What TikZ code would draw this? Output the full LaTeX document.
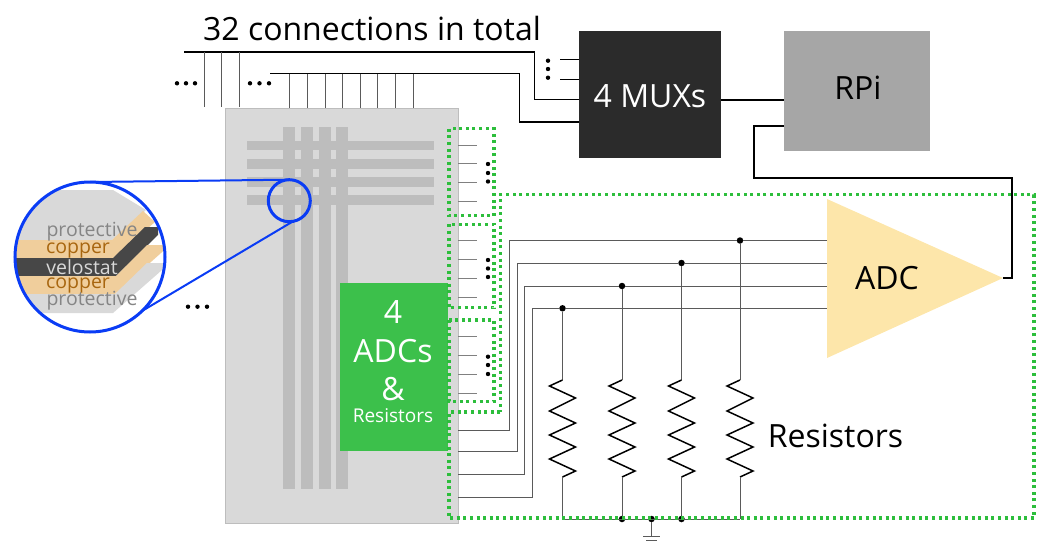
\documentclass[tikz,border=0pt]{standalone}
\usepackage{fontspec}
\setmainfont{Open Sans}
\usetikzlibrary{shapes.geometric}
\definecolor{boardgray}{HTML}{D9D9D9}
\definecolor{stripgray}{HTML}{BDBDBD}
\definecolor{muxblack}{HTML}{2B2B2B}
\definecolor{rpigray}{HTML}{A6A6A6}
\definecolor{adcyellow}{HTML}{FDE6AA}
\definecolor{adcgreen}{HTML}{3CC04B}
\definecolor{dotgreen}{HTML}{2DBE3C}
\definecolor{lensblue}{HTML}{0A3CF5}
\definecolor{copperfill}{HTML}{F0CE9C}
\definecolor{coppertext}{HTML}{A8660F}
\definecolor{velodark}{HTML}{474747}
\definecolor{wiregray}{HTML}{5A5A5A}
\definecolor{prottext}{HTML}{858585}
\begin{document}
\begin{tikzpicture}[
			x=1pt, y=-1pt,
			line cap=butt,
			line join=miter,
			block/.style={rectangle, inner sep=0pt, outer sep=0pt},
			bigtext/.style={font=\fontsize{32}{32}\selectfont},
			lenstext/.style={font=\fontsize{19.5}{19.5}\selectfont, inner sep=0pt, text height=9pt, text depth=0pt},
			thickwire/.style={line width=1.5pt, black},
			wire/.style={line width=1pt, wiregray},
			tick/.style={line width=0.8pt, gray},
			spots/.style={circle, fill=black, inner sep=0pt, outer sep=0pt, minimum size=4.4pt},
			junction/.style={circle, fill=black, inner sep=0pt, outer sep=0pt, minimum size=6.5pt},
			dots/.style={line width=3.4pt, dotgreen, dash pattern=on 3pt off 3.6pt},
			lensring/.style={circle, draw=lensblue, line width=3pt, inner sep=0pt, outer sep=0pt}
			]
			\useasboundingbox (0,0) rectangle (1038,543);
			
			% Board and strips
			\node[block, fill=boardgray, draw=stripgray, line width=0.8pt, minimum width=233pt, minimum height=415pt] (board) at (341.8,315.8) {};
			\foreach \y in {145.5,164,182,200}
				\fill[stripgray] (246.7,\y-4.8) rectangle (434,\y+4.8);
			\foreach \x in {289,306.7,325,342.3}
				\fill[stripgray] (\x-6,127.3) rectangle (\x+6,489);
			
			% Blocks
			\node[block, fill=adcgreen, minimum width=108pt, minimum height=168pt] (adcs) at (394,366.8) {};
			\node[bigtext, text=white] (adcs4) at (393,312) {4};
			\node[bigtext, text=white] (adcsname) at (393,351) {ADCs};
			\node[bigtext, text=white] (adcsand) at (393,389) {\&};
			\node[text=white, font=\fontsize{19}{19}\selectfont] (adcsres) at (393,415.7) {Resistors};
			\node[block, fill=muxblack, minimum width=142pt, minimum height=127pt] (muxs) at (650,94.5) {};
			\node[bigtext, text=white] (muxlabel) at (650,96.5) {4 MUXs};
			\node[block, fill=rpigray, minimum width=146pt, minimum height=120pt] (rpi) at (857,91) {};
			\node[bigtext] (rpilabel) at (858,88) {RPi};
			\fill[adcyellow] (827,199) -- (1003,278) -- (827,358) -- cycle;
			\coordinate (adctip) at (1003,278);
			\node[bigtext] (adc) at (887,278) {ADC};
			\node[bigtext] (title) at (372,28.5) {32 connections in total};
			\node[bigtext] (reslabel) at (835.5,436) {Resistors};
			
			% Top connections
			\coordinate (bus1) at (184.3,52);
			\coordinate (bus2) at (270,73.7);
			\draw[thickwire] (bus1) -- (534.3,52) -- (534.3,99.7) -- (muxs.west |- 0,99.7);
			\draw[thickwire] (bus2) -- (519.7,73.7) -- (519.7,122) -- (muxs.west |- 0,122);
			\draw[thickwire, line width=1pt] (560,59.3) -- (muxs.west |- 0,59.3);
			\draw[thickwire, line width=1pt] (560,79) -- (muxs.west |- 0,79);
			\foreach \x in {204,221.7,239.3}
				\draw[wire, line width=0.8pt] (\x,52) -- (\x,106.7);
			\foreach \x in {289.3,307.3,325,342.7,360,377.7,395.3,413}
				\draw[wire, line width=0.8pt] (\x,73.7) -- (\x,0 |- board.north);
			\foreach \y in {60.7,69,77.7}
				\node[spots] (muxdot\y) at (548,\y) {};
			\foreach \x in {177,186,195,250,259.5,269}
				\node[spots] (busdot\x) at (\x,83.3) {};
			\foreach \x in {188,197.5,207}
				\node[spots] (boarddot\x) at (\x,306.7) {};
			
			% RPi links
			\draw[thickwire] (muxs.east |- 0,100) -- (rpi.west |- 0,100);
			\draw[thickwire] (rpi.west |- 0,126) -- (754,126) -- (754,178) -- (1012,178) -- (1012,278) -- (adctip);
			
			% Small ticks
			\foreach \y in {145,163.7,182.3,201,240,259,278,297,336.7,355.3,374,393}
				\draw[tick] (board.east |- 0,\y) -- (477,\y);
			\foreach \y in {164,173,181.5,260,268.5,277,356.7,365,374}
				\node[spots] (tickdot\y) at (488,\y) {};
			
			% Resistors
			\node[junction] (j1) at (562.5,308.3) {};
			\node[junction] (j2) at (622,286) {};
			\node[junction] (j3) at (681.5,263) {};
			\node[junction] (j4) at (740,240.5) {};
			\foreach \x/\j in {562.5/j1,622/j2,681.5/j3,740/j4} {
				\draw[wire] (\j) -- (\x,380);
				\draw[line width=1.5pt, line join=miter] (\x,380) -- ++(-13,6) -- ++(26,12) -- ++(-26,13) -- ++(26,12) -- ++(-26,12) -- ++(26,12) -- ++(-26,12) -- ++(26,12) -- ++(-13,6);
				\draw[wire] (\x,477) -- (\x,519);
			}
			
			% ADC inputs
			\draw[wire] (board.east |- 0,430) -- (509,430) -- (509,240.5) -- (j4) -- (827,240.5);
			\draw[wire] (board.east |- 0,451.3) -- (517.3,451.3) -- (517.3,263) -- (j3) -- (827,263);
			\draw[wire] (board.east |- 0,474.3) -- (524.7,474.3) -- (524.7,286) -- (j2) -- (827,286);
			\draw[wire] (board.east |- 0,497.7) -- (532.3,497.7) -- (532.3,308.3) -- (j1) -- (827,308.3);
			
			% Ground
			\coordinate (rail) at (562.5,519);
			\node[junction] (g1) at (622,519) {};
			\node[junction] (g2) at (651.5,519) {};
			\node[junction] (g3) at (681.5,519) {};
			\coordinate (gnd) at (651.5,536);
			\draw[wire] (rail) -- (740,519);
			\draw[wire] (g2) -- (gnd);
			\draw[wire] (643,536) -- (660,536);
			\draw[wire] (646,540.5) -- (657,540.5);
			
			% Green outlines
			\draw[dots] (449,128.7) rectangle (494,215.7);
			\draw[dots] (449,224.3) rectangle (494,307.7);
			\draw[dots] (449,320) rectangle (494,401.7);
			\draw[dots] (500.3,412) -- (449,412) -- (449,518) -- (1034,518) -- (1034,194.7) -- (500.3,194.7) -- cycle;
			
			% Lens
			\begin{scope}
				\clip (90,257) circle (75);
				\fill[white] (15,181) rectangle (165,333);
				\fill[boardgray] (0,190) -- (113,190) -- (146,210) -- (112,240) -- (0,240) -- cycle;
				\fill[copperfill] (0,240) -- (112,240) -- (143,211) -- (155,222) -- (113,258) -- (0,258) -- cycle;
				\fill[velodark] (0,258) -- (113,258) -- (145,227) -- (158,227) -- (158,235) -- (116,276) -- (0,276) -- cycle;
				\fill[copperfill] (0,276) -- (116,276) -- (147,245) -- (170,245) -- (115,294) -- (0,294) -- cycle;
				\fill[boardgray] (0,294) -- (115,294) -- (147,263) -- (170,263) -- (113,313) -- (0,313) -- cycle;
			\end{scope}
			\node[lenstext, text=prottext] (top1) at (92,231.5) {protective};
			\node[lenstext, text=coppertext] (cop1) at (78,248.5) {copper};
			\node[lenstext, text=boardgray] (velo) at (82,269.5) {velostat};
			\node[lenstext, text=coppertext] (cop2) at (78,283.5) {copper};
			\node[lenstext, text=prottext] (top2) at (92,300.5) {protective};
			\node[lensring, minimum size=150pt] (lens) at (90,257) {};
			\node[lensring, minimum size=42pt] (spot) at (289.3,200.7) {};
			\draw[lensblue, line width=2pt] (lens.north) -- (spot.north);
			\draw[lensblue, line width=2pt] (lens.-46) -- (spot.-80);
		\end{tikzpicture}
\end{document}
